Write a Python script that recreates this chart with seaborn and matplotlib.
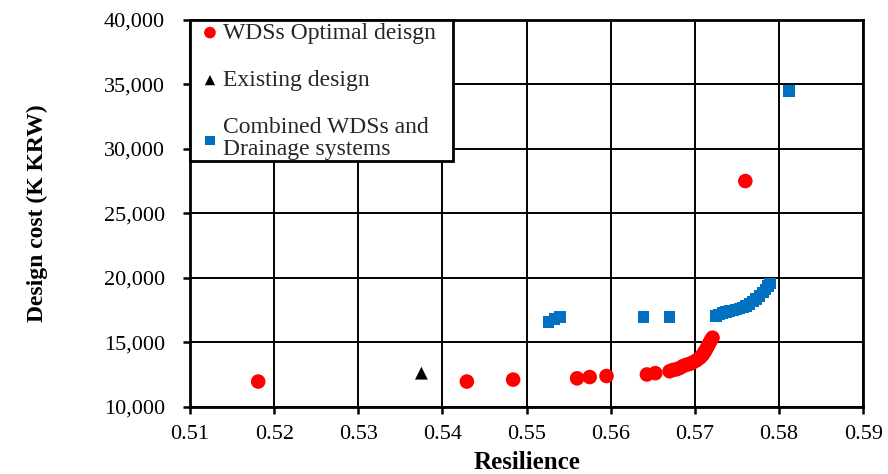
import matplotlib
matplotlib.use("Agg")
import matplotlib.pyplot as plt
import seaborn as sns
import pandas as pd
from matplotlib.patches import Rectangle
from matplotlib.ticker import FuncFormatter, MultipleLocator

# --- data ---
wds_res = [0.5181, 0.5429, 0.5484, 0.5560, 0.5575, 0.5595, 0.5643, 0.5653,
           0.5670, 0.5674, 0.5678, 0.5682, 0.5686, 0.5690, 0.5694, 0.5698,
           0.5702, 0.5706, 0.5709, 0.5711, 0.5713, 0.5715, 0.5717, 0.5719,
           0.5721, 0.5760]
wds_cost = [11950, 11950, 12100, 12200, 12300, 12380, 12500, 12600,
            12750, 12850, 12900, 13000, 13150, 13250, 13320, 13450,
            13600, 13800, 14000, 14200, 14400, 14650, 14900, 15150,
            15350, 27500]

exist_res = [0.5375]
exist_cost = [12600]

comb_res = [0.5526, 0.5533, 0.5540, 0.5639, 0.5670,
            0.5725, 0.5729, 0.5733, 0.5737, 0.5741, 0.5745, 0.5749,
            0.5753, 0.5757, 0.5761, 0.5765, 0.5769, 0.5773, 0.5777,
            0.5781, 0.5784, 0.5787, 0.5789, 0.5812]
comb_cost = [16550, 16800, 16950, 16980, 16980,
             17050, 17150, 17250, 17330, 17400, 17470, 17550,
             17620, 17700, 17820, 17980, 18150, 18350, 18600,
             18850, 19100, 19350, 19550, 34500]

labels = ["WDSs Optimal deisgn", "Existing design",
          "Combined WDSs and\nDrainage systems"]

df = pd.DataFrame({
    "Resilience": wds_res + exist_res + comb_res,
    "Cost": wds_cost + exist_cost + comb_cost,
    "Series": [labels[0]] * len(wds_res) + [labels[1]] * len(exist_res)
              + [labels[2]] * len(comb_res),
})

sns.set_theme(style="white")
plt.rcParams["font.family"] = ["Liberation Serif", "DejaVu Serif"]

fig = plt.figure(figsize=(8.88, 4.74), dpi=100)
ax = fig.add_axes([0.214, 0.142, 0.758, 0.816])

palette = {labels[0]: "#FF0000", labels[1]: "#000000", labels[2]: "#0070C0"}
markers = {labels[0]: "o", labels[1]: "^", labels[2]: "s"}
sizes = {labels[0]: 110, labels[1]: 85, labels[2]: 70}

for lab in labels:
    sub = df[df["Series"] == lab]
    sns.scatterplot(data=sub, x="Resilience", y="Cost", ax=ax,
                    color=palette[lab], marker=markers[lab], s=sizes[lab],
                    edgecolor="none", linewidth=0, label=lab, zorder=3)

ax.set_xlim(0.51, 0.59)
ax.set_ylim(10000, 40000)
ax.xaxis.set_major_locator(MultipleLocator(0.01))
ax.yaxis.set_major_locator(MultipleLocator(5000))
ax.xaxis.set_major_formatter(FuncFormatter(lambda v, p: f"{v:.2f}"))
ax.yaxis.set_major_formatter(FuncFormatter(lambda v, p: f"{int(round(v)):,}"))

ax.grid(True, color="black", linewidth=1.4)
ax.set_axisbelow(True)
for sp in ax.spines.values():
    sp.set_color("black")
    sp.set_linewidth(2)
    sp.set_visible(True)

ax.tick_params(axis="both", which="major", direction="out", length=5,
               width=1.8, color="black", labelsize=16, labelcolor="black",
               bottom=True, left=True)
ax.tick_params(axis="x", pad=8)
ax.tick_params(axis="y", pad=13)

ax.set_xlabel("Resilience", fontsize=18, fontweight="bold", labelpad=5,
              color="black")
ax.set_ylabel("Design cost (K KRW)", fontsize=17, fontweight="bold",
              labelpad=40, color="black")

# legend box (white panel with black border, drawn in axes coordinates)
box = Rectangle((0.0, 0.636), 0.391, 0.364, transform=ax.transAxes,
                facecolor="white", edgecolor="black", linewidth=2,
                zorder=4, clip_on=False)
ax.add_patch(box)

leg = ax.legend(loc="upper left", bbox_to_anchor=(-0.002, 1.0),
                borderaxespad=0, frameon=False, fontsize=17,
                labelspacing=1.1, handletextpad=-0.25, handlelength=1.6,
                borderpad=0.1, markerscale=0.8)
leg.set_zorder(5)
leg.get_texts()[2].set_linespacing(1.05)

fig.savefig("out.png", dpi=100)
